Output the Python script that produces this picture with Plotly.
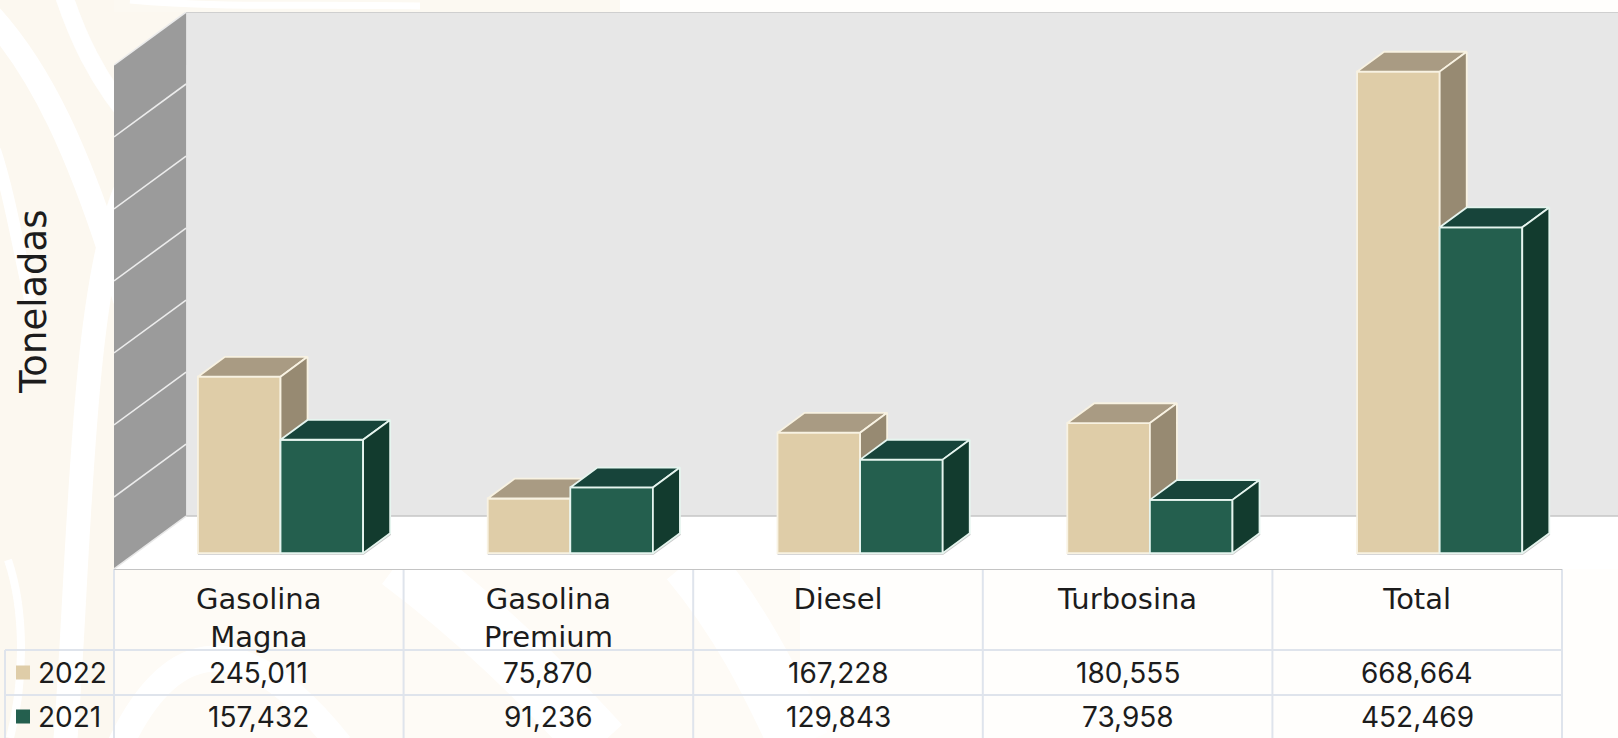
import plotly.graph_objects as go

categories = ["Gasolina<br>Magna", "Gasolina<br>Premium", "Diesel", "Turbosina", "Total"]
series_2022 = [245011, 75870, 167228, 180555, 668664]
series_2021 = [157432, 91236, 129843, 73958, 452469]
grid_values = [100000, 200000, 300000, 400000, 500000, 600000, 700000]

W, H = 1618, 738
PL, PT, PR, PB = 114, 12, 1618, 569
X_RANGE = [-0.5, 4.69]
Y_RANGE = [-22050, 751450]
DX = 0.2488      # x shift from the front to the back of the floor, axis units
DY = 73500       # y shift from the front to the back of the floor, axis units
D0, D1 = 0.3, 0.675   # depth of the front and the back of a bar
BW = 0.285
WORD_FONT = "DejaVu Sans"
NUM_FONT = "Inter"
TXT = "#1c1c1c"
GRID = "#dfe4ec"


def depth(x, v, d):
    return x + d * DX, v + (d - D0) * DY


def px(x):
    return (x - PL) / (PR - PL)


def py(y):
    return (PB - y) / (PB - PT)


def poly(points):
    return "M " + " L ".join(f"{a},{b}" for a, b in points) + " Z"


shapes = []


def bg(d, color, width):
    shapes.append(dict(type="path", xref="paper", yref="paper", layer="below", path=d,
                       fillcolor="rgba(0,0,0,0)", line=dict(color=color, width=width)))


def wave(points):
    p = [f"{px(a)},{py(b)}" for a, b in points]
    s = "M " + p[0]
    for i in range(1, len(p) - 2, 3):
        s += f" C {p[i]} {p[i+1]} {p[i+2]}"
    return s


def rect(x0, y0, x1, y1, color):
    shapes.append(dict(type="rect", xref="paper", yref="paper", layer="below",
                       x0=px(x0), x1=px(x1), y0=py(y0), y1=py(y1), fillcolor=color, line_width=0))


# watermark behind the chart
rect(0, 0, 114, 738, "#fcf8f0")
rect(114, 0, 620, 12, "#fcf9f2")
rect(114, 12, 186, 70, "#fcf8f0")
rect(114, 569, 800, 738, "#fefbf6")
for pts, wd in [
    ([(-10, 15), (40, 70), (80, 150), (125, 300)], 24),
    ([(62, -10), (75, 30), (95, 80), (140, 130)], 18),
    ([(-5, 150), (8, 190), (15, 230), (30, 300)], 12),
    ([(130, 180), (80, 280), (80, 560), (65, 745)], 24),
    ([(8, 560), (25, 610), (25, 680), (10, 738)], 8),
    ([(130, 0), (220, 8), (300, 4), (420, 6)], 7),
    ([(120, 745), (170, 640), (240, 620), (340, 745)], 26),
    ([(400, 560), (480, 620), (540, 680), (600, 745)], 60),
    ([(690, 560), (740, 620), (770, 680), (800, 745)], 60),
]:
    bg(wave(pts), "#ffffff", wd)

# chart walls and floor
bx0, by0 = depth(X_RANGE[0], 0, 0)
bx1, by1 = depth(X_RANGE[0], 0, 1)
tx0, ty0 = depth(X_RANGE[0], grid_values[-1], 0)
tx1, ty1 = depth(X_RANGE[0], grid_values[-1], 1)
shapes.append(dict(type="rect", xref="x", yref="y", layer="below", x0=bx1, x1=X_RANGE[1], y0=by1, y1=ty1,
                   fillcolor="#e7e7e7", line_width=0))
shapes.append(dict(type="path", xref="x", yref="y", layer="below",
                   path=poly([(bx0, by0), (bx1, by1), (X_RANGE[1], by1), (X_RANGE[1], by0)]),
                   fillcolor="#ffffff", line_width=0))
shapes.append(dict(type="path", xref="x", yref="y", layer="below",
                   path=poly([(bx0, by0), (bx1, by1), (tx1, ty1), (tx0, ty0)]),
                   fillcolor="#9b9b9b", line_width=0))
for g in grid_values:
    a, b = depth(X_RANGE[0], g, 0)
    c, d = depth(X_RANGE[0], g, 1)
    shapes.append(dict(type="line", xref="x", yref="y", layer="below", x0=a, y0=b, x1=c, y1=d,
                       line=dict(color="#ececec", width=1.6)))
shapes.append(dict(type="line", xref="x", yref="y", layer="below", x0=bx1, y0=ty1, x1=X_RANGE[1], y1=ty1,
                   line=dict(color="#cfcfcf", width=2)))
shapes.append(dict(type="line", xref="x", yref="y", layer="below", x0=bx1, y0=by1, x1=X_RANGE[1], y1=by1,
                   line=dict(color="#c6c6c6", width=1.5)))
shapes.append(dict(type="line", xref="x", yref="y", layer="below", x0=bx0, y0=by0, x1=bx1, y1=by1,
                   line=dict(color="#e8e8e8", width=1.5)))

# table rules
ROWS_Y = [569, 650, 695, 738]
COLS_X = [114, 403.6, 693.2, 982.8, 1272.4, 1562]
COL_MID = [(COLS_X[i] + COLS_X[i + 1]) / 2 for i in range(5)]


def tline(x0, y0, x1, y1, color=GRID, width=2):
    shapes.append(dict(type="line", xref="paper", yref="paper", layer="below",
                       x0=px(x0), y0=py(y0), x1=px(x1), y1=py(y1), line=dict(color=color, width=width)))


for c in COLS_X:
    tline(c, ROWS_Y[0], c, ROWS_Y[-1])
tline(5, ROWS_Y[1], 5, ROWS_Y[-1])
tline(5, ROWS_Y[1], COLS_X[-1], ROWS_Y[1])
tline(5, ROWS_Y[2], COLS_X[-1], ROWS_Y[2])
tline(COLS_X[0], ROWS_Y[0], COLS_X[-1], ROWS_Y[0], "#c4c4c4", 2)

annotations = [dict(text="Toneladas", xref="paper", yref="paper", x=px(34), y=py(302), showarrow=False,
                    textangle=-90, font=dict(family=WORD_FONT, size=37, color=TXT),
                    xanchor="center", yanchor="middle")]

series = [
    ("2022", series_2022, "#dfcda8", "#a99b83", "#978a72", "#f8f2e2", -BW, "x", "y"),
    ("2021", series_2021, "#245f4e", "#17443a", "#123b2e", "#e6f5ef", 0.0, "x2", "y2"),
]
traces = []
for row, (name, vals, front, top, side, edge, off, xa, ya) in enumerate(series):
    xs = [i + D0 * DX for i in range(len(vals))]
    yc = (ROWS_Y[row + 1] + ROWS_Y[row + 2]) / 2
    rect(16, yc - 7, 30, yc + 7, front)
    annotations.append(dict(text=name, xref="paper", yref="paper", x=px(36), y=py(yc), showarrow=False,
                            xanchor="left", yanchor="middle", font=dict(family=NUM_FONT, size=28, color=TXT)))
    for i, v in enumerate(vals):
        annotations.append(dict(text=f"{v:,}", xref="paper", yref="paper",
                                x=px(COL_MID[i]), y=py(yc), showarrow=False,
                                xanchor="center", yanchor="middle", font=dict(family=NUM_FONT, size=28, color=TXT)))
    traces.append(go.Bar(x=xs, y=vals, base=0, width=BW, offset=off, name=name, xaxis=xa, yaxis=ya,
                         marker=dict(color=front, line=dict(color=edge, width=1.8))))
    for i, v in enumerate(vals):
        left, right = i + off, i + off + BW
        # faint base outline
        a, b = depth(left, 0, D0)
        c, d = depth(right, 0, D0)
        e, f = depth(right, 0, D1)
        shapes.append(dict(type="path", xref="x", yref="y", layer="below",
                           path=f"M {a},{b} L {c},{d} L {e},{f}", line=dict(color="#c9c9c9", width=3.5)))
        p_top = [depth(left, v, D0), depth(right, v, D0), depth(right, v, D1), depth(left, v, D1)]
        p_side = [depth(right, 0, D0), depth(right, 0, D1), depth(right, v, D1), depth(right, v, D0)]
        for p, col in ((p_top, top), (p_side, side)):
            traces.append(go.Scatter(x=[q[0] for q in p] + [p[0][0]], y=[q[1] for q in p] + [p[0][1]],
                                     mode="lines", fill="toself", fillcolor=col,
                                     line=dict(color=edge, width=1.8), xaxis=xa, yaxis=ya,
                                     showlegend=False, hoverinfo="skip"))

fig = go.Figure(traces)
fig.update_layout(
    width=W, height=H, margin=dict(l=PL, r=W - PR, t=PT, b=H - PB),
    paper_bgcolor="#fffefc", plot_bgcolor="rgba(0,0,0,0)", showlegend=False, barmode="overlay",
    shapes=shapes, annotations=annotations,
    xaxis=dict(range=X_RANGE, tickmode="array",
               tickvals=[X_RANGE[0] + (m - PL) * (X_RANGE[1] - X_RANGE[0]) / (PR - PL) for m in COL_MID],
               ticktext=categories,
               showgrid=False, zeroline=False, showline=False, ticks="outside", ticklen=4,
               tickcolor="rgba(0,0,0,0)", tickfont=dict(family=WORD_FONT, size=29, color=TXT), automargin=False),
    yaxis=dict(range=Y_RANGE, visible=False),
    xaxis2=dict(range=X_RANGE, overlaying="x", visible=False),
    yaxis2=dict(range=Y_RANGE, overlaying="y", visible=False),
)
fig.write_html("out.html", config=dict(displayModeBar=False),
               post_script="document.body.style.margin='0';document.body.style.overflow='hidden';")
